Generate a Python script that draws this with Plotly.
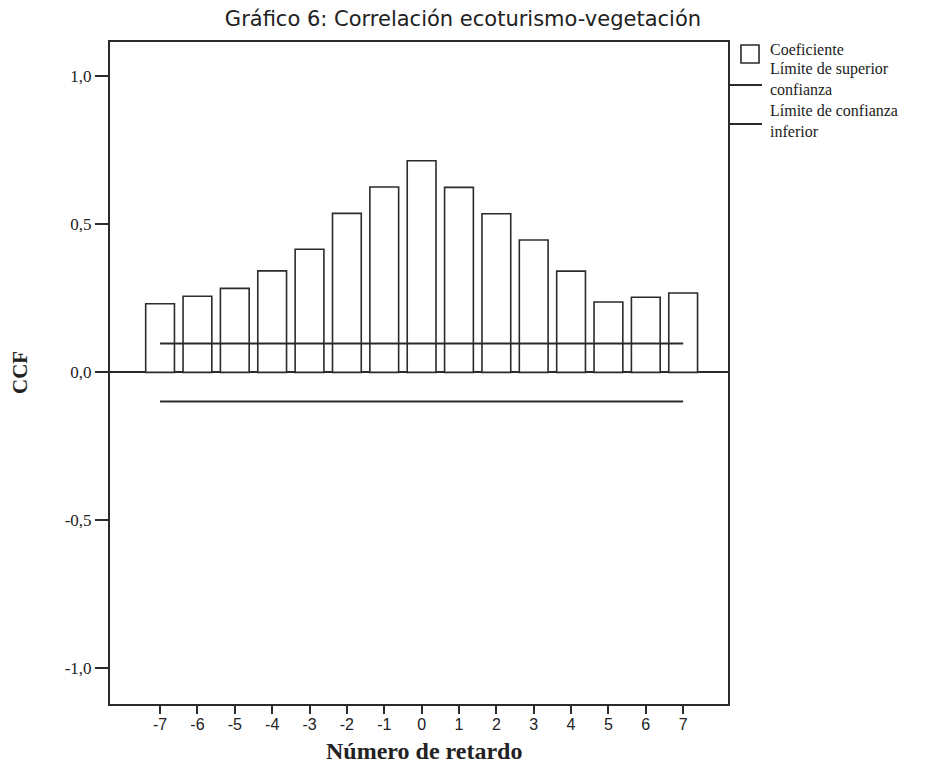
import plotly.graph_objects as go

lags = [-7, -6, -5, -4, -3, -2, -1, 0, 1, 2, 3, 4, 5, 6, 7]
coef = [0.232, 0.257, 0.284, 0.343, 0.416, 0.537, 0.626, 0.715, 0.625, 0.536, 0.447, 0.342, 0.238, 0.254, 0.268]
upper_conf = [0.098, 0.098, 0.098, 0.098, 0.098, 0.098, 0.098, 0.098, 0.098, 0.098, 0.098, 0.098, 0.098, 0.098, 0.098]
lower_conf = [-0.098, -0.098, -0.098, -0.098, -0.098, -0.098, -0.098, -0.098, -0.098, -0.098, -0.098, -0.098, -0.098, -0.098, -0.098]
y_ticks = [-1.0, -0.5, 0.0, 0.5, 1.0]
y_tick_labels = ["-1,0", "-0,5", "0,0", "0,5", "1,0"]
legend_coef = "Coeficiente"
legend_upper = "Límite de superior<br>confianza"
legend_lower = "Límite de confianza<br>inferior"
x_title = "Número de retardo"
y_title = "CCF"

ink = "#2b2b2b"
txt = "#222222"
serif = "Liberation Serif"

fig = go.Figure()
fig.add_trace(go.Bar(
    x=lags, y=coef, name="Coeficiente", width=0.77, showlegend=False,
    marker=dict(color="white", line=dict(color=ink, width=1.6)),
))
fig.add_trace(go.Scatter(
    x=lags, y=upper_conf, mode="lines", name="Límite de superior confianza",
    showlegend=False, line=dict(color=ink, width=2),
))
fig.add_trace(go.Scatter(
    x=lags, y=lower_conf, mode="lines", name="Límite de confianza inferior",
    showlegend=False, line=dict(color=ink, width=2),
))

# custom legend placed like the original
legend_font = dict(family=serif, size=16, color=txt)
text_x = 1.0647
for t, yy in [(legend_coef, 0.9894), (legend_upper, 0.9441), (legend_lower, 0.8800)]:
    fig.add_annotation(text=t, xref="paper", yref="paper", x=text_x, y=yy,
                       xanchor="left", yanchor="middle", align="left",
                       showarrow=False, font=legend_font)
fig.add_shape(type="rect", xref="paper", yref="paper",
              x0=1.0210, x1=1.0502, y0=0.9683, y1=0.9955,
              line=dict(color=ink, width=1.6), fillcolor="white")
for yy in (0.9350, 0.8761):
    fig.add_shape(type="line", xref="paper", yref="paper",
                  x0=1.0, x1=1.055, y0=yy, y1=yy,
                  line=dict(color=ink, width=2))

# axis titles
fig.add_annotation(text="<b>" + x_title + "</b>", xref="paper", yref="paper",
                   x=0.508, y=-0.0710, xanchor="center", yanchor="middle",
                   showarrow=False, font=dict(family=serif, size=24, color=txt))
fig.add_annotation(text="<b>" + y_title + "</b>", xref="paper", yref="paper",
                   x=-0.1456, y=0.5, xanchor="center", yanchor="middle", textangle=-90,
                   showarrow=False, font=dict(family=serif, size=21, color=txt))

fig.update_layout(
    width=918, height=758,
    paper_bgcolor="white", plot_bgcolor="white",
    margin=dict(l=102, r=198, t=34, b=62, autoexpand=False),
    title=dict(text="Gráfico 6: Correlación ecoturismo-vegetación",
               font=dict(family="DejaVu Sans", size=21, color=txt),
               x=0.4956, xanchor="center", xref="container",
               y=1 - 11 / 758, yanchor="middle", yref="container"),
    showlegend=False,
    xaxis=dict(range=[-8.34, 8.2], tickvals=lags, ticktext=[str(v) for v in lags],
               automargin=False,
               showgrid=False, zeroline=False,
               showline=True, linecolor=ink, linewidth=2, mirror=True,
               ticks="outside", ticklen=8, tickwidth=2, tickcolor=ink,
               ticklabelstandoff=-3,
               tickfont=dict(family="Liberation Sans", size=16, color=txt)),
    yaxis=dict(range=[-1.12, 1.116], tickvals=y_ticks, ticktext=y_tick_labels,
               automargin=False,
               showgrid=False, zeroline=True, zerolinecolor=ink, zerolinewidth=2,
               showline=True, linecolor=ink, linewidth=2, mirror=True,
               ticks="outside", ticklen=13, tickwidth=2, tickcolor=ink,
               tickfont=dict(family=serif, size=17, color=txt)),
)

fig.write_html("out.html")
